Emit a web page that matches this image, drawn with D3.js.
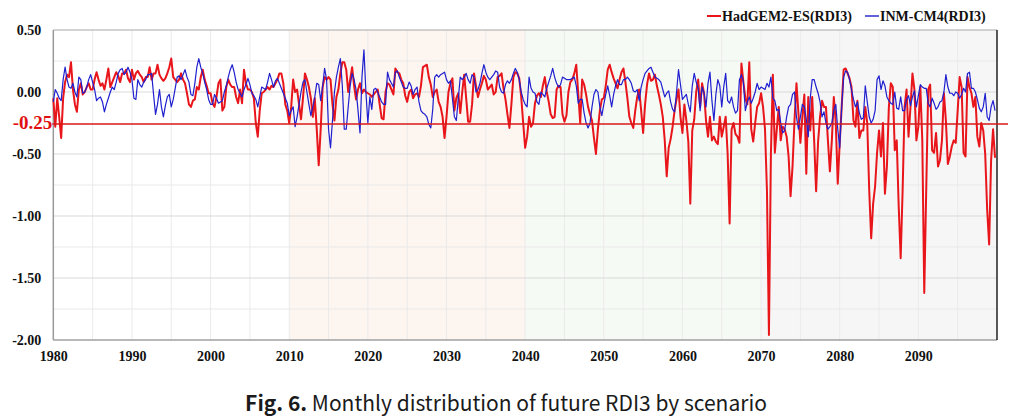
<!DOCTYPE html>
<html>
<head>
<meta charset="utf-8">
<script src="https://cdn.jsdelivr.net/npm/d3@7"></script>
<style>
  html, body { margin: 0; padding: 0; background: #ffffff; }
  svg { display: block; }
</style>
</head>
<body>
<svg id="chart" width="1028" height="417"></svg>
<script>
// ---------------- DATA ----------------
const startYear = 1980;
const stepsPerYear = 4;               // quarterly readings
const xTickYears = [1980, 1990, 2000, 2010, 2020, 2030, 2040, 2050, 2060, 2070, 2080, 2090];
const yTickValues = [0.5, 0, -0.5, -1, -1.5, -2];
const yGridValues = [0.5, 0.25, 0, -0.25, -0.5, -0.75, -1, -1.25, -1.5, -1.75, -2];
const thresholdValue = -0.25;
const periodStarts = [2010, 2040, 2070];
const periodEnds = [2040, 2070, 2100];
const seriesNames = ["HadGEM2-ES(RDI3)", "INM-CM4(RDI3)"];
const captionBold = "Fig. 6.";
const captionText = " Monthly distribution of future RDI3 by scenario";

const hadgem1980 = [
 -0.05,-0.28,-0.05,-0.2, -0.37,-0.05,0.08,0.14, 0.12,0.24,0.02,-0.1, -0.16,0.02,0.07,-0.02,
 0.0,0.04,0.07,0.02, 0.02,0.1,0.16,0.1, 0.05,0.07,0.02,0.1, 0.19,0.04,0.08,0.12,
 0.16,0.13,0.08,0.15, 0.15,0.18,0.11,0.08, 0.18,0.1,0.15,0.17, 0.14,0.12,0.08,0.12,
 0.12,0.2,0.1,0.15, 0.15,0.22,0.14,0.11, 0.09,0.11,0.15,0.2, 0.27,0.12,0.1,0.08,
 0.1,0.15,0.1,0.07, -0.01,-0.1,-0.12,-0.07, -0.06,0.04,0.02,0.12, 0.18,0.1,0.05,-0.01,
 -0.01,-0.09,-0.12,-0.04, 0.07,0.1,-0.15,-0.12, 0.04,0.1,0.06,0.04, 0.04,-0.04,-0.09,0.02,
 -0.09,0.18,0.07,0.02, 0.02,0.0,-0.05,-0.25, -0.36,-0.15,-0.01,0.0, 0.02,0.04,0.02,0.05,
 0.04,0.07,0.1,0.15, 0.15,0.07,-0.1,-0.15, -0.25,-0.12,0.1,0.0, 0.02,-0.1,-0.22,-0.05,
 0.15,0.1,0.04,-0.05, -0.2,-0.05,-0.3,-0.59, -0.3,0.04,0.12,0.1, 0.12,0.1,-0.1,-0.23,
 -0.04,0.02,0.15,0.24, 0.24,0.18,0.0,0.1, 0.2,0.05,-0.06,0.02, 0.07,-0.01,0.02,0.0
];
const hadgem2020 = [
 -0.01,-0.02,-0.04,-0.02, 0.0,0.02,-0.1,-0.21, -0.22,0.0,0.07,0.06, 0.02,-0.02,0.19,0.16,
 0.15,0.1,0.07,-0.03, -0.08,0.0,0.02,-0.05, -0.02,-0.01,-0.04,0.05, 0.2,0.21,0.22,0.12,
 0.06,-0.04,0.0,0.02, -0.08,-0.12,-0.2,-0.37, -0.2,0.0,0.07,0.11, -0.15,-0.05,-0.01,-0.17,
 0.0,0.14,-0.05,-0.24, -0.24,-0.1,0.15,0.05, -0.04,0.02,0.07,0.13, 0.1,0.02,0.04,0.06,
 -0.02,0.0,0.12,0.13, 0.15,0.03,-0.06,-0.18, -0.29,-0.1,0.12,0.16, 0.15,0.11,-0.04,-0.25,
 -0.45,-0.36,-0.2,-0.28, -0.25,-0.09,-0.03,-0.01, -0.04,0.05,0.12,0.0, -0.08,-0.18,-0.21,-0.2,
 0.02,0.05,0.04,-0.18, -0.24,-0.19,0.0,0.08, 0.1,0.15,0.22,-0.01, -0.25,0.1,0.06,-0.02,
 -0.12,-0.18,-0.23,-0.37, -0.5,-0.3,-0.15,-0.06, -0.05,0.05,0.18,0.22, 0.16,0.11,0.07,0.03,
 0.1,0.16,0.19,0.08, -0.05,-0.2,-0.25,-0.29, -0.15,-0.04,0.02,-0.15, -0.33,-0.1,0.06,0.15,
 0.09,0.1,0.14,0.05, -0.02,-0.1,-0.2,-0.39, -0.68,-0.45,-0.38,-0.28, -0.15,-0.06,0.02,-0.2
];
const hadgem2060 = [
 -0.33,-0.1,-0.23,-0.4, -0.9,-0.31,-0.22,0.0, 0.1,-0.12,0.07,-0.01, -0.23,-0.36,-0.2,-0.39,
 -0.36,-0.4,-0.42,-0.2, -0.36,-0.28,-0.2,-0.5, -1.06,-0.3,-0.25,-0.34, -0.36,-0.41,0.23,0.08,
 -0.05,-0.1,0.24,-0.3, -0.4,-0.25,-0.12,-0.09, -0.01,-0.12,-0.3,-0.8, -1.96,-0.5,0.14,-0.49,
 -0.3,-0.12,-0.39,-0.28, -0.3,-0.36,-0.52,-0.84, -0.6,-0.23,0.07,-0.17, -0.41,-0.2,-0.02,-0.66,
 -0.04,-0.31,-0.04,-0.39, -0.8,-0.4,-0.2,-0.07, -0.12,-0.12,-0.39,-0.64, -0.39,-0.04,-0.25,-0.74,
 -0.41,-0.12,0.18,0.19, 0.15,0.11,0.04,-0.23, -0.28,-0.07,-0.37,-0.31, -0.31,-0.12,-0.25,-0.79,
 -1.18,-0.9,-0.76,-0.49, -0.31,-0.52,-0.25,-0.82, -0.6,-0.12,0.07,0.04, -0.47,-0.39,-0.92,-1.34,
 -0.79,-0.12,0.02,-0.36, -0.12,0.15,0.02,-0.39, -0.28,0.04,-0.39,-1.62, -0.79,0.02,0.06,-0.47,
 -0.49,-0.33,-0.6,-0.55, -0.39,-0.01,-0.23,-0.58, -0.52,-0.44,-0.39,-0.41, -0.15,0.12,0.04,-0.49,
 -0.52,0.12,0.04,-0.01, -0.12,-0.04,-0.36,-0.44, -0.25,-0.31,-0.5,-0.95, -1.23,-0.55,-0.3,-0.53
];

const inmcm1980 = [
 -0.08,0.02,-0.01,-0.05, -0.07,0.1,0.2,0.1, 0.04,0.03,0.07,0.0, -0.04,0.12,0.1,-0.01,
 0.0,0.04,0.1,0.14, 0.08,0.02,-0.07,-0.05, -0.04,-0.08,-0.16,-0.1, -0.05,0.0,0.04,0.02,
 0.08,0.15,0.18,0.19, 0.14,0.16,0.2,0.16, 0.1,-0.05,-0.06,0.1, 0.06,0.04,0.08,0.1,
 0.14,0.14,0.15,-0.02, -0.18,-0.1,0.02,-0.12, -0.2,-0.11,-0.04,-0.02, -0.12,-0.06,0.03,0.12,
 0.13,0.1,0.14,0.18, 0.12,0.08,-0.02,-0.03, 0.07,0.2,0.27,0.2, 0.15,0.08,0.02,-0.06,
 -0.1,-0.1,-0.02,-0.05, -0.09,-0.08,-0.07,0.0, 0.05,0.12,0.18,0.22, 0.16,0.08,0.02,-0.01,
 -0.04,0.02,0.06,0.11, 0.06,-0.01,-0.03,-0.06, -0.12,-0.04,0.04,0.03, 0.02,0.08,0.15,0.1,
 0.04,0.09,0.11,0.07, 0.03,-0.01,-0.05,-0.09, -0.19,-0.15,-0.12,-0.28, -0.2,-0.1,0.0,0.08,
 0.1,0.0,-0.1,-0.19, -0.12,-0.04,0.07,0.06, -0.07,0.05,0.19,0.1, -0.3,-0.45,-0.23,0.0,
 0.12,0.2,0.27,0.05, -0.3,-0.3,-0.12,0.05, 0.15,0.1,0.02,-0.15, -0.33,0.12,0.34,0.0
];
const inmcm2020 = [
 -0.25,-0.04,-0.14,0.02, 0.03,0.0,-0.04,-0.08, -0.1,-0.1,0.16,0.1, 0.07,0.04,0.16,0.17,
 0.12,0.08,0.04,0.03, 0.03,0.08,0.05,-0.02, 0.02,0.04,-0.08,-0.15, -0.17,-0.18,-0.2,-0.26,
 -0.29,-0.14,0.12,0.14, 0.12,0.14,0.15,0.16, 0.1,0.07,0.09,-0.05, -0.2,-0.23,-0.05,0.12,
 0.1,0.12,0.15,0.1, 0.07,0.14,0.12,0.0, 0.02,0.07,0.15,0.22, 0.16,0.12,0.1,0.12,
 0.14,0.17,0.16,0.04, 0.0,-0.01,0.06,0.09, 0.07,0.1,0.15,0.19, 0.16,0.1,0.0,-0.06,
 -0.1,-0.12,0.12,0.03, 0.0,-0.01,-0.08,-0.1, 0.0,-0.02,-0.04,0.03, 0.08,0.13,0.19,0.12,
 0.07,0.04,0.06,0.12, 0.11,0.1,0.1,0.1, 0.11,0.12,0.05,-0.09, -0.06,-0.06,-0.17,-0.25,
 -0.29,-0.25,-0.12,-0.02, 0.02,0.0,-0.12,-0.19, -0.1,-0.02,0.05,-0.03, -0.12,-0.02,0.05,0.1,
 0.06,0.06,0.1,0.1, 0.12,0.1,0.07,0.01, 0.0,0.02,-0.07,0.04, 0.1,0.15,0.17,0.19,
 0.2,0.16,0.12,0.11, 0.1,0.08,0.02,-0.04, -0.01,0.01,-0.08,-0.14, -0.16,0.0,0.18,0.06
];
const inmcm2060 = [
 -0.06,-0.04,-0.02,-0.1, -0.16,0.05,0.15,0.08, 0.03,-0.15,0.04,-0.01, -0.12,0.07,0.16,-0.07,
 -0.23,-0.02,0.1,0.05, -0.12,0.04,0.15,-0.07, -0.09,-0.04,-0.12,-0.17, -0.15,0.1,0.14,0.08,
 -0.15,-0.08,-0.04,-0.09, -0.05,0.0,0.07,0.02, 0.04,0.03,0.02,0.07, 0.04,0.12,-0.05,-0.07,
 -0.15,-0.14,-0.25,-0.33, -0.31,-0.2,-0.12,-0.1, -0.02,0.0,-0.2,-0.3, -0.2,-0.1,-0.12,-0.22,
 -0.36,-0.05,0.1,0.1, 0.04,-0.01,-0.08,-0.2, -0.16,-0.25,-0.3,-0.28, -0.25,-0.15,-0.1,-0.3,
 -0.45,-0.12,0.12,0.17, 0.16,0.1,0.02,-0.06, -0.12,-0.08,-0.17,-0.22, -0.21,0.05,-0.08,-0.2,
 -0.25,-0.22,-0.15,0.1, 0.13,0.02,0.09,0.05, -0.04,-0.07,-0.09,-0.1, 0.0,-0.13,-0.14,-0.04,
 -0.15,-0.15,-0.06,-0.03, -0.11,-0.04,0.01,-0.12, -0.03,0.06,0.04,0.03, 0.03,-0.09,-0.12,-0.05,
 -0.09,-0.14,-0.12,-0.08, -0.07,0.0,0.14,0.04, -0.01,-0.01,-0.03,0.0, -0.01,-0.05,-0.02,0.03,
 0.0,0.15,0.16,0.03, 0.03,0.0,-0.06,-0.13, -0.16,-0.12,-0.01,-0.2, -0.23,-0.12,-0.07,-0.15
];

const hadgem = hadgem1980.concat(hadgem2020, hadgem2060);
const inmcm = inmcm1980.concat(inmcm2020, inmcm2060);

// ---------------- DRAW ----------------
const svg = d3.select("#chart");
const W = 1028, H = 417;
const plot = { left: 53.3, right: 997, top: 30, bottom: 340 };

const x = d3.scaleLinear().domain([1980, 2100]).range([plot.left, plot.right]);
const y = d3.scaleLinear().domain([-2, 0.5]).range([plot.bottom, plot.top]);

const serif = "'Liberation Serif', 'Times New Roman', serif";

// period shading
const shadeColors = ["#fcf5f0", "#f6faf4", "#f6f6f6"];
svg.append("g").selectAll("rect")
  .data(periodStarts.map((s, i) => ({ s, e: periodEnds[i], c: shadeColors[i] })))
  .join("rect")
  .attr("x", d => x(d.s))
  .attr("y", plot.top)
  .attr("width", d => x(d.e) - x(d.s))
  .attr("height", plot.bottom - plot.top)
  .attr("fill", d => d.c);

// vertical grid every 5 years
const vGrid = d3.range(1985, 2100, 5);
svg.append("g").selectAll("line")
  .data(vGrid)
  .join("line")
  .attr("x1", d => x(d)).attr("x2", d => x(d))
  .attr("y1", plot.top).attr("y2", plot.bottom)
  .attr("stroke", "#ebebeb").attr("stroke-width", 1);

// horizontal grid
svg.append("g").selectAll("line")
  .data(yGridValues.filter(v => v !== thresholdValue && v !== -2 && v !== 0.5))
  .join("line")
  .attr("x1", plot.left).attr("x2", plot.right)
  .attr("y1", d => y(d)).attr("y2", d => y(d))
  .attr("stroke", d => (Math.abs(d * 2 - Math.round(d * 2)) < 1e-9) ? "#d9d9d9" : "#e9e9e9")
  .attr("stroke-width", 1);

// frame
svg.append("line").attr("x1", plot.left).attr("x2", plot.right)
  .attr("y1", plot.top).attr("y2", plot.top).attr("stroke", "#a8a8a8").attr("stroke-width", 1.2);
svg.append("line").attr("x1", plot.left).attr("x2", plot.right)
  .attr("y1", plot.bottom).attr("y2", plot.bottom).attr("stroke", "#a0a0a0").attr("stroke-width", 1.5);
svg.append("line").attr("x1", plot.left).attr("x2", plot.left)
  .attr("y1", plot.top).attr("y2", plot.bottom).attr("stroke", "#9a9a9a").attr("stroke-width", 1.5);
svg.append("line").attr("x1", plot.right).attr("x2", plot.right)
  .attr("y1", plot.top).attr("y2", plot.bottom).attr("stroke", "#222").attr("stroke-width", 1.5);

// lines
const t = i => startYear + i / stepsPerYear;
const lineGen = d3.line().x((d, i) => x(t(i))).y(d => y(d)).curve(d3.curveLinear);

svg.append("path").datum(hadgem)
  .attr("d", lineGen).attr("fill", "none")
  .attr("stroke", "#e8151b").attr("stroke-width", 2).attr("stroke-linejoin", "round");
svg.append("path").datum(inmcm)
  .attr("d", lineGen).attr("fill", "none")
  .attr("stroke", "#1f1fd0").attr("stroke-width", 1.2).attr("stroke-linejoin", "round");

// threshold line
svg.append("line")
  .attr("x1", plot.left - 1).attr("x2", 1008)
  .attr("y1", y(thresholdValue) + 1).attr("y2", y(thresholdValue) + 1)
  .attr("stroke", "#d81818").attr("stroke-width", 1.4);

// y axis labels
const fmt = d => d.toFixed(2);
const yAxis = d3.axisLeft(y).tickValues(yTickValues).tickSize(0).tickPadding(12).tickFormat(fmt);
const gy = svg.append("g").attr("transform", `translate(${plot.left},0)`).call(yAxis);
gy.select(".domain").remove();
gy.selectAll("text")
  .attr("font-family", serif).attr("font-weight", "bold")
  .attr("font-size", 14).attr("fill", "#111");

// threshold label
svg.append("text")
  .attr("x", plot.left - 1).attr("y", y(thresholdValue) + 2)
  .attr("text-anchor", "end").attr("dominant-baseline", "middle")
  .attr("font-family", serif).attr("font-weight", "bold")
  .attr("font-size", 19).attr("fill", "#e01010")
  .text(fmt(thresholdValue));

// x axis labels
const xAxis = d3.axisBottom(x).tickValues(xTickYears).tickSize(0).tickPadding(11).tickFormat(d3.format("d"));
const gx = svg.append("g").attr("transform", `translate(0,${plot.bottom})`).call(xAxis);
gx.select(".domain").remove();
gx.selectAll("text")
  .attr("font-family", serif).attr("font-weight", "bold")
  .attr("font-size", 14).attr("fill", "#111");

// legend
const legendColors = ["#e8151b", "#1f1fd0"];
const legendX = [707, 865];
const lg = svg.append("g");
seriesNames.forEach((name, i) => {
  lg.append("line")
    .attr("x1", legendX[i]).attr("x2", legendX[i] + 14)
    .attr("y1", 16).attr("y2", 16)
    .attr("stroke", legendColors[i]).attr("stroke-width", i === 0 ? 2 : 1.4);
  lg.append("text")
    .attr("x", legendX[i] + 15).attr("y", 21)
    .attr("font-family", serif).attr("font-weight", "bold")
    .attr("font-size", 14).attr("fill", "#111")
    .text(name);
});

// caption
const cap = svg.append("text")
  .attr("x", 506).attr("y", 411)
  .attr("text-anchor", "middle")
  .attr("font-family", "'Noto Sans CJK KR', 'Noto Sans', sans-serif")
  .attr("font-size", 21).attr("fill", "#1a1a1a");
cap.append("tspan").attr("font-weight", "bold").text(captionBold);
cap.append("tspan").text(captionText);
</script>
</body>
</html>
